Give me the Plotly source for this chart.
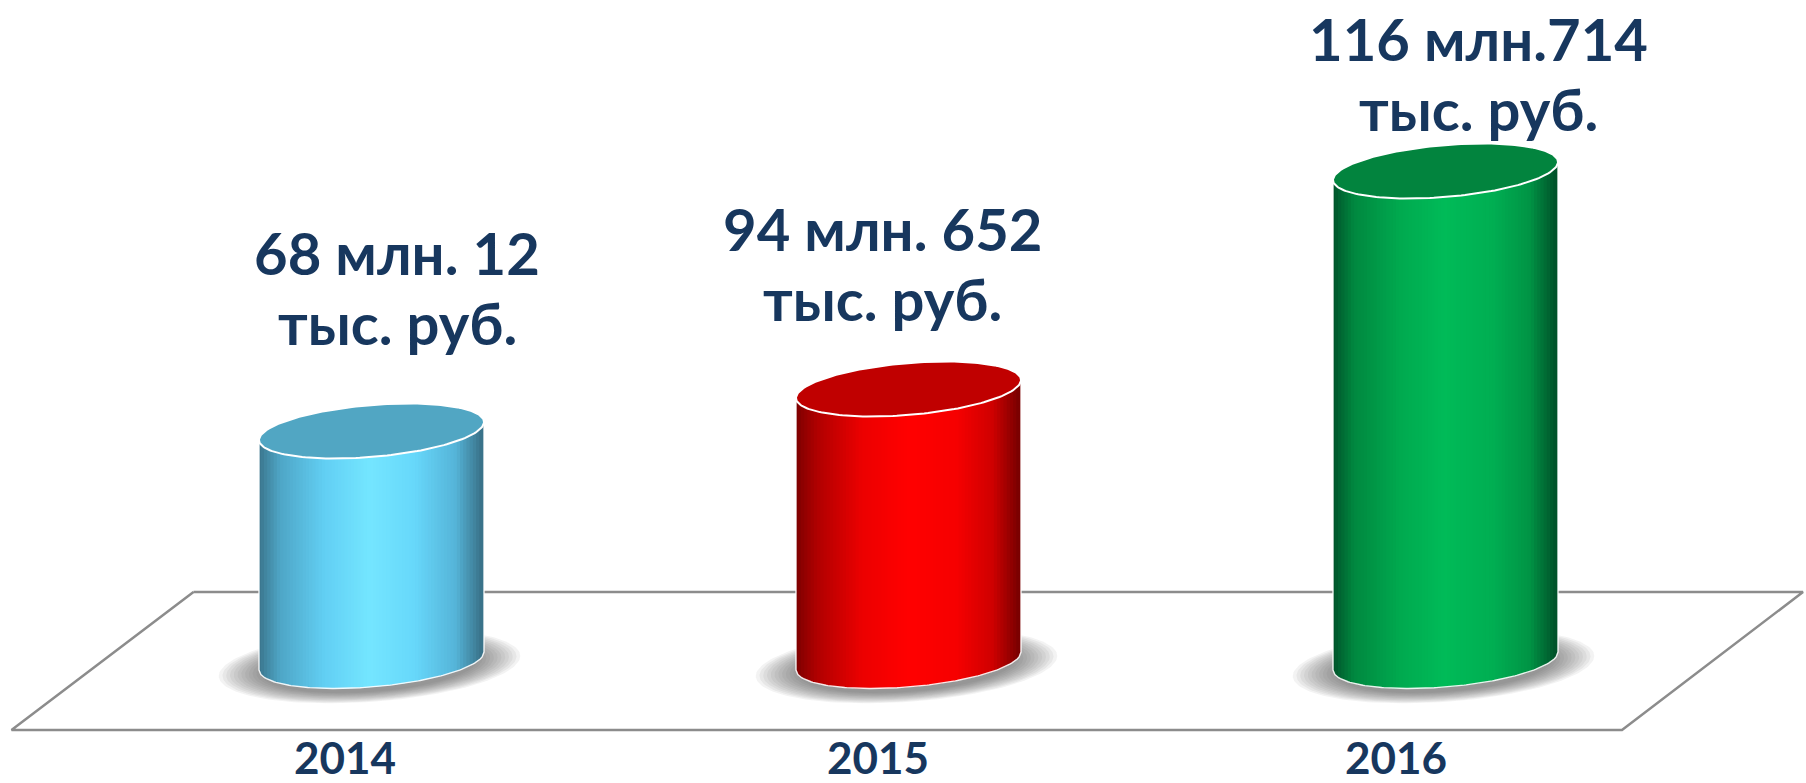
import numpy as np
import plotly.graph_objects as go

# ---------------- data ----------------
years = ["2014", "2015", "2016"]
label_line1 = ["68 млн. 12", "94 млн. 652", "116 млн.714"]
label_line2 = ["тыс. руб.", "тыс. руб.", "тыс. руб."]
heights = [230, 272, 490]          # cylinder heights as drawn (chart units)

# ---------------- styles ----------------
body_stops = [
    [(0.0, "#3a7289"), (0.10, "#4ea6c6"), (0.30, "#62cff4"), (0.50, "#74e6ff"),
     (0.70, "#67d7fa"), (0.88, "#55b4d8"), (1.0, "#386f85")],
    [(0.0, "#7a0000"), (0.10, "#b00000"), (0.30, "#ec0000"), (0.50, "#ff0000"),
     (0.72, "#f60000"), (0.88, "#cf0000"), (1.0, "#760000")],
    [(0.0, "#00502a"), (0.10, "#00883f"), (0.30, "#00a94f"), (0.50, "#00bb58"),
     (0.72, "#00ae52"), (0.88, "#009445"), (1.0, "#004f28")],
]
top_colors = ["#51a6c3", "#c00000", "#02843e"]
TEXT_COLOR = "#17375e"
FONT = "Lato"

W, H = 1806, 783
STEP = 537.0          # px between categories
X0 = 371.5            # px of first category centre
BASE = 661.0          # px of the cylinders' base centre line
R = 112.5 / STEP      # radius in category units
B = 26.0              # ellipse half depth (y units)
TILT = 9.0            # rise of the right end of the ellipse


def ax(px):
    return (px - X0) / STEP


def ay(py):
    return BASE - py


def hex2rgb(h):
    h = h.lstrip("#")
    return np.array([int(h[i:i + 2], 16) for i in (0, 2, 4)], float)


def interp(stops, u):
    for (u0, c0), (u1, c1) in zip(stops[:-1], stops[1:]):
        if u0 <= u <= u1:
            f = (u - u0) / (u1 - u0)
            c = hex2rgb(c0) * (1 - f) + hex2rgb(c1) * f
            return "rgb(%d,%d,%d)" % tuple(np.round(c))
    return stops[-1][1]


def ell(cx, cy, t, r=R, b=B, tilt=TILT):
    return cx + r * np.cos(t), cy + b * np.sin(t) + tilt * np.cos(t)


fig = go.Figure()

# floor (perspective plane)
floor_x = [ax(193.5), ax(1803), ax(1622), ax(11.5), ax(193.5)]
floor_y = [ay(592), ay(592), ay(730), ay(730), ay(592)]
fig.add_trace(go.Scatter(x=floor_x, y=floor_y, mode="lines",
                         line=dict(color="#8c8c8c", width=2.5), hoverinfo="skip"))

t_full = np.linspace(0, 2 * np.pi, 181)
N = 70
for i, (h, stops, topc) in enumerate(zip(heights, body_stops, top_colors)):
    cx = i
    # soft shadow
    for k in range(12):
        s = 1.0 - k * 0.025
        xs, ys = ell(cx - 2 / STEP, -5, t_full, r=R * 1.34 * s, b=36 * s, tilt=10 * s)
        fig.add_trace(go.Scatter(x=xs, y=ys, fill="toself", mode="lines",
                                 fillcolor="rgba(70,70,70,0.065)", line=dict(width=0),
                                 hoverinfo="skip"))
    # body as gradient strips
    edges = np.linspace(-1, 1, N + 1)
    for j in range(N):
        x0, x1 = edges[j], edges[j + 1]
        pad = 0.45 * (x1 - x0)
        xi = np.linspace(max(-1, x0 - pad), min(1, x1 + pad), 4)
        yb = -B * np.sqrt(np.clip(1 - xi ** 2, 0, None)) + TILT * xi
        yt = h + yb
        px = np.concatenate([xi, xi[::-1]])
        py = np.concatenate([yb, yt[::-1]])
        fig.add_trace(go.Scatter(x=cx + R * px, y=py, fill="toself", mode="lines",
                                 fillcolor=interp(stops, (j + 0.5) / N),
                                 line=dict(width=0), hoverinfo="skip"))
    # body outline
    xi = np.linspace(-1, 1, 121)
    yb = -B * np.sqrt(np.clip(1 - xi ** 2, 0, None)) + TILT * xi
    ox = np.concatenate([[cx - R], cx + R * xi, [cx + R]])
    oy = np.concatenate([[h - TILT], yb, [h + TILT]])
    fig.add_trace(go.Scatter(x=ox, y=oy, mode="lines",
                             line=dict(color="rgba(255,255,255,0.9)", width=1.4),
                             hoverinfo="skip"))
    # top cap
    xs, ys = ell(cx, h, t_full)
    fig.add_trace(go.Scatter(x=xs, y=ys, fill="toself", mode="lines", fillcolor=topc,
                             line=dict(color="white", width=2), hoverinfo="skip"))

# value labels (two lines each)
VAL_FS = 58
label_px = [(397, 272), (882, 248), (1478, 58)]   # centre x, baseline of first line
LINE_GAP = 70
annotations = []
for (lx, lb), l1, l2 in zip(label_px, label_line1, label_line2):
    for txt, base in ((l1, lb), (l2, lb + LINE_GAP)):
        annotations.append(dict(x=ax(lx), y=ay(base - 0.34 * VAL_FS), xref="x", yref="y",
                                text=txt, showarrow=False, xanchor="center", yanchor="middle",
                                font=dict(family=FONT, size=VAL_FS, color=TEXT_COLOR,
                                          weight="bold")))

# year labels
YEAR_FS = 44
year_px = [345, 878, 1396]
for yx, yr in zip(year_px, years):
    annotations.append(dict(x=ax(yx), y=ay(772 - 0.34 * YEAR_FS), xref="x", yref="y",
                            text=yr, showarrow=False, xanchor="center", yanchor="middle",
                            font=dict(family=FONT, size=YEAR_FS, color=TEXT_COLOR,
                                      weight="bold")))

fig.update_layout(
    width=W, height=H, margin=dict(l=0, r=0, t=0, b=0),
    paper_bgcolor="white", plot_bgcolor="white", showlegend=False,
    xaxis=dict(range=[ax(0), ax(W)], visible=False, fixedrange=True),
    yaxis=dict(range=[ay(H), ay(0)], visible=False, fixedrange=True),
    annotations=annotations,
)

fig.write_html("out.html", config={"displayModeBar": False},
               post_script="document.body.style.margin='0';document.body.style.overflow='hidden';")
